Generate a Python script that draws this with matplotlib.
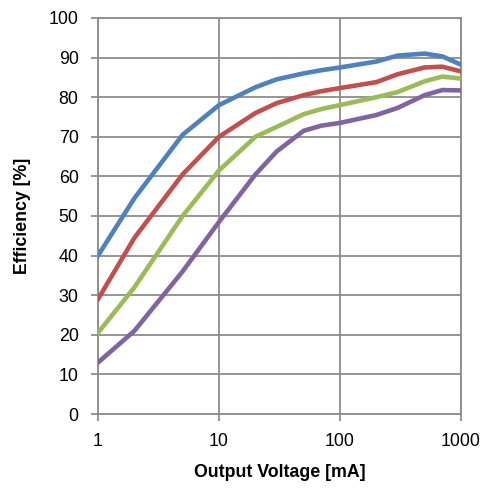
import matplotlib
matplotlib.use("Agg")
import matplotlib.pyplot as plt
from matplotlib.ticker import FixedLocator, NullLocator, FixedFormatter

plt.rcParams['font.family'] = ['Liberation Sans', 'DejaVu Sans']

# ===============================
# Data
# ===============================
current_ma = [1, 2, 5, 10, 20, 30, 50, 70, 100, 200, 300, 500, 700, 1000]

eff_blue = [40, 54.5, 70.5, 78, 82.5, 84.5, 86, 86.8, 87.5, 89, 90.5, 91, 90.3, 88.2]
eff_red = [29, 44.5, 60.5, 70, 76, 78.5, 80.5, 81.5, 82.3, 83.8, 85.8, 87.5, 87.7, 86.5]
eff_green = [20.5, 32, 50, 61.5, 70, 72.5, 75.7, 77, 78, 80, 81.3, 84, 85.2, 84.7]
eff_purple = [13, 21, 36, 48.5, 60.5, 66.3, 71.5, 72.8, 73.5, 75.5, 77.3, 80.5, 81.8, 81.7]

x_ticks = [1, 10, 100, 1000]
x_tick_labels = ["1", "10", "100", "1000"]
y_ticks = list(range(0, 101, 10))

# ===============================
# Plot
# ===============================
fig = plt.figure(figsize=(4.84, 4.92), dpi=100)
ax = fig.add_axes([0.2025, 0.1585, 0.75, 0.805])

grid_col = "#8c8c8c"
for y, c in zip([eff_blue, eff_red, eff_green, eff_purple],
                ["#4F81BD", "#C0504D", "#9BBB59", "#8064A2"]):
    ax.plot(current_ma, y, color=c, lw=3.3, solid_joinstyle="round", zorder=3)

ax.set_xscale("log")
ax.set_xlim(1, 1000)
ax.set_ylim(0, 100)
ax.xaxis.set_major_locator(FixedLocator(x_ticks))
ax.xaxis.set_major_formatter(FixedFormatter(x_tick_labels))
ax.xaxis.set_minor_locator(NullLocator())
ax.set_yticks(y_ticks)

ax.grid(True, color=grid_col, lw=1.3)
ax.set_axisbelow(True)
for s in ax.spines.values():
    s.set_color(grid_col)
    s.set_linewidth(1.3)

ax.tick_params(axis="both", direction="out", length=5, width=1.3, color=grid_col,
               labelsize=12.8, labelcolor="black")
ax.tick_params(axis="x", pad=9)
ax.tick_params(axis="y", pad=9)

ax.set_xlabel("Output Voltage [mA]", fontsize=12.8, fontweight="bold", labelpad=10)
ax.set_ylabel("Efficiency [%]", fontsize=12.8, fontweight="bold", labelpad=13)

fig.savefig("out.png", dpi=100)
